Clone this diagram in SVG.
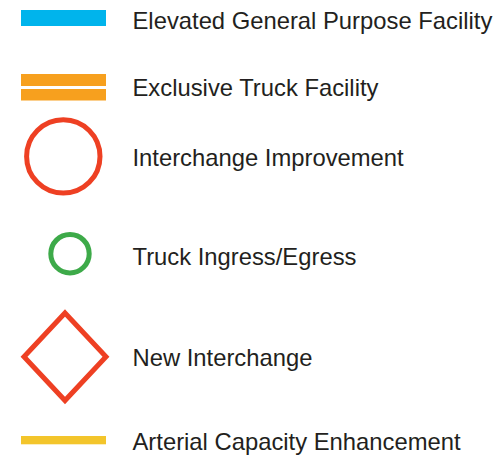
<svg xmlns="http://www.w3.org/2000/svg" width="500" height="459" viewBox="0 0 500 459">
<style>
text{font-family:"Liberation Sans",Arial,sans-serif;font-size:23.8px;fill:#231F20}
.red{fill:none;stroke:#EE4023;stroke-width:5}
</style>
<rect width="500" height="459" fill="#fff"/>
<g id="elevated">
<rect x="21" y="10" width="85" height="16" fill="#00B4EC"/>
<text x="132.5" y="29">Elevated General Purpose Facility</text>
</g>
<g id="truck-facility">
<rect x="21" y="74" width="85" height="12" fill="#F7A01E"/>
<rect x="21" y="89" width="85" height="11.5" fill="#F7A01E"/>
<text x="132.5" y="96">Exclusive Truck Facility</text>
</g>
<g id="interchange-improvement">
<circle cx="63.3" cy="156.4" r="36.7" class="red"/>
<text x="132.5" y="166">Interchange Improvement</text>
</g>
<g id="ingress">
<circle cx="70" cy="253.7" r="19.2" fill="none" stroke="#3DAA49" stroke-width="5"/>
<text x="132.5" y="265">Truck Ingress/Egress</text>
</g>
<g id="new-interchange">
<polygon points="65,313 106,356.7 65,400.5 24,356.7" class="red"/>
<text x="132.5" y="366">New Interchange</text>
</g>
<g id="arterial">
<rect x="21" y="436" width="85" height="8.3" fill="#F3C52B"/>
<text x="132.5" y="450">Arterial Capacity Enhancement</text>
</g>
</svg>
